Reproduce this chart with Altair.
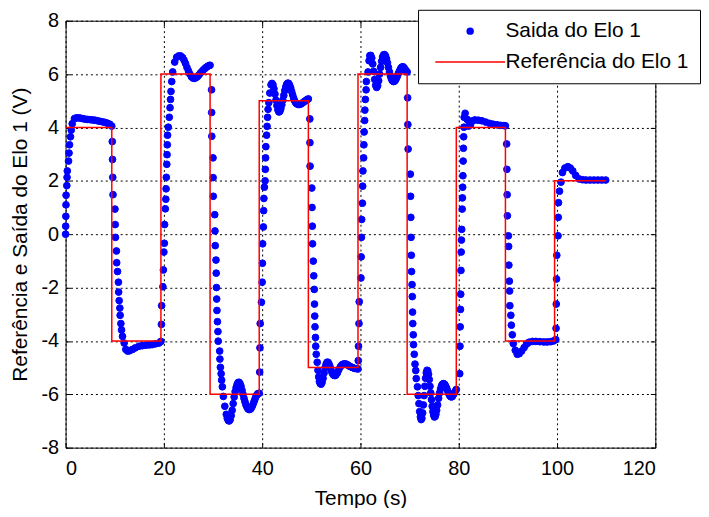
import altair as alt
import pandas as pd

# ---- reference (step) signal ----
ref_t = [0, 9.4, 19.4, 29.4, 39.4, 49.4, 59.5, 69.5, 79.5, 89.5, 99.5, 110]
ref_v = [4, -4, 6, -6, 5, -5, 6, -6, 4, -4, 2, 2]

# ---- measured output, read segment by segment ----
a_t = [0.0, 0.02, 0.05, 0.08, 0.1, 0.25, 0.3, 0.35, 0.6, 0.7, 0.8, 1.0, 1.15, 1.35, 1.8, 2.2, 2.6, 3.0, 3.5, 4.0, 4.5, 5.0, 5.5, 6.0, 6.5, 7.0, 7.5, 8.0, 8.5, 9.0, 9.4]
a_v = [0.0, 0.3, 0.67, 1.1, 1.46, 1.82, 2.13, 2.37, 2.74, 3.04, 3.35, 3.65, 3.9, 4.14, 4.33, 4.36, 4.36, 4.35, 4.33, 4.31, 4.3, 4.29, 4.28, 4.27, 4.25, 4.23, 4.21, 4.19, 4.16, 4.12, 4.05]

b_t = [9.5, 9.55, 9.6, 9.65, 10.05, 10.1, 10.15, 10.35, 10.4, 10.57, 10.75, 10.8, 10.9, 11.04, 11.1, 11.25, 11.38, 11.58, 11.92, 12.26, 12.6, 13.0, 13.6, 14.2, 14.95, 15.6, 16.3, 17.0, 17.6, 18.3, 19.0, 19.4]
b_v = [3.47, 2.8, 2.13, 1.48, 0.94, 0.36, -0.12, -0.63, -1.07, -1.4, -1.8, -2.17, -2.49, -2.77, -3.04, -3.35, -3.59, -3.83, -4.08, -4.32, -4.38, -4.37, -4.32, -4.26, -4.2, -4.18, -4.16, -4.15, -4.14, -4.11, -4.08, -4.02]

c_t = [19.5, 19.55, 19.8, 19.9, 20.0, 20.1, 20.15, 20.3, 20.4, 20.45, 20.5, 20.6, 20.65, 20.7, 20.75, 20.9, 21.1, 21.25, 21.35, 21.45, 21.6, 21.8]
c_v = [-3.38, -2.68, -1.97, -1.34, -0.67, -0.34, 0.36, 0.95, 1.31, 1.7, 2.13, 2.62, 2.98, 3.35, 3.71, 4.01, 4.38, 4.74, 5.05, 5.35, 5.72, 6.08]
c_osc_t = [22.2, 22.6, 23.0, 23.4, 23.8, 24.1, 24.4, 24.7, 25.0, 25.3, 25.6, 25.9, 26.2, 26.5, 26.8, 27.1, 27.4, 27.7, 28.0, 28.3, 28.6, 28.9, 29.2, 29.4]
c_osc_v = [6.45, 6.63, 6.68, 6.68, 6.62, 6.52, 6.4, 6.25, 6.12, 6.0, 5.9, 5.85, 5.84, 5.86, 5.9, 5.96, 6.03, 6.09, 6.15, 6.2, 6.25, 6.29, 6.32, 6.33]

d_t = [29.7, 29.72, 29.75, 30.0, 30.02, 30.05, 30.35, 30.4, 30.45, 30.6, 30.65, 30.7, 30.75, 30.8, 30.9, 31.0, 31.05, 31.35, 31.4, 31.5, 31.65, 31.75, 31.9]
d_v = [5.41, 4.56, 3.67, 2.86, 2.12, 1.42, 0.73, 0.12, -0.43, -0.97, -1.46, -2.0, -2.43, -2.86, -3.28, -3.65, -4.01, -4.38, -4.68, -4.99, -5.23, -5.47, -5.72]
d_osc_t = [32.1, 32.4, 32.7, 32.9, 33.1, 33.3, 33.5, 33.7, 33.9, 34.1, 34.3, 34.5, 34.7, 34.9, 35.1, 35.3, 35.5, 35.7, 35.9, 36.1, 36.3, 36.5, 36.7, 36.9, 37.1, 37.3, 37.5, 37.7, 37.9, 38.1, 38.3, 38.5, 38.7, 38.9, 39.1, 39.4]
d_osc_v = [-6.08, -6.45, -6.75, -6.9, -6.98, -7.0, -6.95, -6.8, -6.6, -6.35, -6.1, -5.9, -5.75, -5.63, -5.56, -5.55, -5.6, -5.7, -5.85, -6.0, -6.15, -6.28, -6.4, -6.48, -6.54, -6.57, -6.57, -6.54, -6.48, -6.4, -6.3, -6.2, -6.1, -6.03, -5.98, -5.96]

e_t = [39.5, 39.55, 39.6, 39.85, 40.0, 40.05, 40.1, 40.25, 40.3, 40.35, 40.45, 40.6, 40.65, 40.7, 40.75, 40.9, 41.0, 41.1, 41.2, 41.35]
e_v = [-5.17, -4.26, -3.35, -2.55, -1.8, -1.09, -0.36, 0.27, 0.88, 1.34, 1.76, 2.0, 2.43, 2.86, 3.28, 3.71, 4.04, 4.38, 4.68, 4.93]
e_osc_t = [41.55, 41.8, 42.0, 42.2, 42.4, 42.6, 42.8, 43.0, 43.2, 43.4, 43.6, 43.8, 44.0, 44.2, 44.4, 44.6, 44.8, 45.0, 45.2, 45.4, 45.6, 45.8, 46.0, 46.2, 46.4, 46.6, 46.8, 47.0, 47.3, 47.6, 47.9, 48.2, 48.5, 48.8, 49.1, 49.4]
e_osc_v = [5.29, 5.6, 5.65, 5.6, 5.45, 5.25, 5.02, 4.82, 4.66, 4.58, 4.6, 4.7, 4.85, 5.02, 5.2, 5.38, 5.52, 5.62, 5.66, 5.65, 5.58, 5.48, 5.35, 5.22, 5.1, 5.0, 4.93, 4.89, 4.86, 4.86, 4.88, 4.92, 4.96, 5.0, 5.04, 5.07]

f_t = [49.7, 49.72, 49.75, 50.1, 50.15, 50.2, 50.25, 50.4, 50.5, 50.6, 50.65, 50.7, 50.75, 50.85, 50.9, 51.0]
f_v = [4.32, 3.43, 2.55, 1.73, 1.0, 0.3, -0.36, -1.01, -1.56, -2.07, -2.62, -3.07, -3.47, -3.87, -4.2, -4.5]
f_osc_t = [51.2, 51.35, 51.5, 51.65, 51.8, 52.0, 52.2, 52.4, 52.6, 52.8, 53.0, 53.2, 53.4, 53.6, 53.8, 54.0, 54.2, 54.4, 54.6, 54.8, 55.0, 55.3, 55.6, 55.9, 56.2, 56.5, 56.8, 57.1, 57.4, 57.7, 58.0, 58.4, 58.8, 59.2, 59.5]
f_osc_v = [-4.8, -5.1, -5.35, -5.52, -5.6, -5.62, -5.55, -5.4, -5.2, -5.0, -4.88, -4.8, -4.8, -4.86, -4.96, -5.08, -5.18, -5.25, -5.29, -5.3, -5.28, -5.2, -5.08, -4.97, -4.9, -4.87, -4.86, -4.87, -4.9, -4.94, -4.97, -5.0, -5.03, -5.04, -5.05]

g_t = [59.55, 59.6, 59.7, 59.75, 60.1, 60.15, 60.2, 60.25, 60.4, 60.45, 60.5, 60.65, 60.7, 60.75, 60.85, 60.9, 61.0, 61.15, 61.2]
g_v = [-4.74, -4.2, -3.35, -2.53, -1.64, -0.85, -0.12, 0.55, 1.16, 1.8, 2.37, 2.86, 3.35, 3.83, 4.26, 4.65, 5.05, 5.41, 5.72]
g_osc_t = [61.55, 61.75, 61.9, 62.1, 62.3, 62.5, 62.7, 62.9, 63.1, 63.3, 63.5, 63.7, 63.9, 64.1, 64.3, 64.5, 64.7, 64.9, 65.1, 65.3, 65.5, 65.7, 65.9, 66.1, 66.3, 66.5, 66.7, 66.9, 67.1, 67.3, 67.5, 67.7, 67.9, 68.1, 68.3, 68.5, 68.7, 68.9, 69.1, 69.3, 69.5]
g_osc_v = [6.08, 6.5, 6.69, 6.7, 6.6, 6.38, 6.1, 5.8, 5.58, 5.5, 5.56, 5.75, 6.0, 6.25, 6.48, 6.64, 6.72, 6.73, 6.68, 6.57, 6.42, 6.25, 6.08, 5.93, 5.82, 5.75, 5.72, 5.73, 5.77, 5.84, 5.92, 6.02, 6.1, 6.18, 6.24, 6.27, 6.27, 6.23, 6.17, 6.12, 6.08]

h_t = [69.6, 69.65, 69.7, 70.15, 70.2, 70.25, 70.3, 70.35, 70.4, 70.5, 70.55, 70.6, 70.65, 70.75, 70.8, 70.95, 71.1, 71.25, 71.35]
h_v = [5.11, 4.11, 3.19, 2.25, 1.42, 0.63, -0.12, -0.79, -1.4, -1.89, -2.34, -2.92, -3.35, -3.77, -4.14, -4.5, -4.87, -5.11, -5.41]
h_osc_t = [71.6, 71.75, 71.9, 72.05, 72.2, 72.35, 72.5, 72.65, 72.8, 72.95, 73.1, 73.25, 73.4, 73.55, 73.7, 73.85, 74.0, 74.15, 74.3, 74.45, 74.6, 74.75, 74.9, 75.05, 75.2, 75.35, 75.5, 75.7, 75.9, 76.1, 76.3, 76.5, 76.7, 76.9, 77.1, 77.3, 77.5, 77.7, 77.9, 78.1, 78.3, 78.5, 78.7, 78.9, 79.1, 79.3, 79.5]
h_osc_v = [-5.72, -6.05, -6.35, -6.65, -6.85, -6.95, -6.9, -6.7, -6.4, -6.05, -5.7, -5.4, -5.2, -5.1, -5.12, -5.25, -5.45, -5.7, -5.95, -6.2, -6.45, -6.65, -6.78, -6.85, -6.83, -6.75, -6.6, -6.4, -6.15, -5.95, -5.8, -5.68, -5.62, -5.6, -5.62, -5.68, -5.76, -5.85, -5.95, -6.03, -6.08, -6.1, -6.08, -6.02, -5.95, -5.88, -5.82]

i_t = [80.2, 80.25, 80.3, 80.35, 80.4, 80.45, 80.5, 80.55, 80.6, 80.7, 80.75, 80.8, 80.85, 80.9, 80.95, 81.0, 81.05, 81.1, 81.3, 81.7, 82.0, 82.4, 82.8, 83.3, 84.0, 84.7, 85.5, 86.3, 87.0, 87.8, 88.5, 89.2, 89.5]
i_v = [-5.23, -4.2, -3.47, -2.82, -2.25, -1.36, -0.67, -0.22, 0.18, 0.94, 1.36, 1.76, 2.19, 2.74, 3.22, 3.65, 4.01, 4.38, 4.53, 4.3, 4.05, 4.1, 4.25, 4.28, 4.27, 4.25, 4.2, 4.15, 4.12, 4.1, 4.08, 4.07, 4.06]

j_t = [89.75, 89.8, 89.85, 89.9, 90.1, 90.15, 90.2, 90.3, 90.35, 90.4, 90.6, 90.7, 90.9, 91.1, 91.5, 91.9, 92.3, 92.8, 93.3, 93.8, 94.3, 95.0, 95.7, 96.5, 97.3, 98.0, 98.7, 99.3]
j_v = [3.38, 2.43, 1.48, 0.69, -0.06, -0.46, -1.16, -1.76, -2.13, -2.68, -3.04, -3.41, -3.77, -4.1, -4.35, -4.5, -4.48, -4.38, -4.25, -4.12, -4.05, -4.02, -4.02, -4.03, -4.04, -4.04, -4.03, -4.0]

k_t = [99.75, 99.8, 99.85, 99.9, 99.95, 100.2, 100.25, 100.3, 100.5, 100.8, 101.1, 101.6, 102.2, 102.7, 103.2, 103.8, 104.5, 105.2, 105.9, 106.7, 107.5, 108.3, 109.1, 109.9]
k_v = [-3.95, -3.53, -2.62, -1.68, -0.79, -0.06, 0.63, 1.18, 1.61, 1.95, 2.31, 2.48, 2.53, 2.48, 2.37, 2.2, 2.07, 2.04, 2.03, 2.03, 2.03, 2.03, 2.03, 2.03]

x_ticks = [0, 20, 40, 60, 80, 100, 120]
y_ticks = [-8, -6, -4, -2, 0, 2, 4, 6, 8]
series_names = ["Saida do Elo 1", "Referência do Elo 1"]

segments = [(a_t, a_v), (b_t, b_v), (c_t, c_v), (c_osc_t, c_osc_v), (d_t, d_v), (d_osc_t, d_osc_v),
            (e_t, e_v), (e_osc_t, e_osc_v), (f_t, f_v), (f_osc_t, f_osc_v),
            (g_t, g_v), (g_osc_t, g_osc_v), (h_t, h_v), (h_osc_t, h_osc_v),
            (i_t, i_v), (j_t, j_v), (k_t, k_v)]
frames = [pd.DataFrame({"t": st, "v": sv}) for st, sv in segments]
out_df = pd.concat(frames, ignore_index=True)
out_df["series"] = series_names[0]
ref_df = pd.DataFrame({"t": ref_t, "v": ref_v})
ref_df["series"] = series_names[1]

FONT = "Liberation Sans"
x_scale = alt.Scale(domain=[0, 120], nice=False, zero=False)
y_scale = alt.Scale(domain=[-8, 8], nice=False, zero=False)
hyphen_labels = "'' + datum.value"

leg = alt.Legend(title=None, orient="none", legendX=355, legendY=-11,
                 strokeColor="black", fillColor="white", padding=11,
                 labelFont=FONT, labelFontSize=21, labelColor="black", labelLimit=400,
                 symbolSize=36, symbolOffset=31, labelOffset=25, rowPadding=9,
                 symbolStrokeWidth=1.5, cornerRadius=0)

colors = alt.Scale(domain=series_names, range=["#0000ff", "#ff0000"])
shapes = alt.Scale(domain=series_names, range=["circle", "M-11.7,0H11.7"])

points = alt.Chart(out_df).mark_point(filled=True, opacity=1, strokeWidth=1, size=46).encode(
    x=alt.X("t:Q", scale=x_scale,
            axis=alt.Axis(values=x_ticks, title="Tempo (s)", labelExpr=hyphen_labels, orient="bottom",
                          offset=-5, tickSize=5, domain=False, grid=True,
                          labelPadding=11, titlePadding=9)),
    y=alt.Y("v:Q", scale=y_scale,
            axis=alt.Axis(values=y_ticks, title="Referência e Saída do Elo 1 (V)", labelExpr=hyphen_labels,
                          orient="left", offset=-5, tickSize=5, domain=False, grid=True,
                          labelPadding=7, titlePadding=11)),
    fill=alt.Fill("series:N", scale=colors, legend=leg),
    stroke=alt.Stroke("series:N", scale=colors, legend=leg),
    shape=alt.Shape("series:N", scale=shapes, legend=leg),
)

ref_line = alt.Chart(ref_df).mark_line(interpolate="step-after", strokeWidth=1.5).encode(
    x=alt.X("t:Q", scale=x_scale,
            axis=alt.Axis(values=x_ticks, orient="top", offset=-5, tickSize=5, labels=False,
                          domain=False, grid=False, title=None)),
    y=alt.Y("v:Q", scale=y_scale,
            axis=alt.Axis(values=y_ticks, orient="right", offset=-5, tickSize=5, labels=False,
                          domain=False, grid=False, title=None)),
    stroke=alt.Stroke("series:N", scale=colors, legend=leg),
)

chart = alt.layer(points, ref_line).resolve_axis(x="independent", y="independent").properties(
    width=594, height=430,
    autosize=alt.AutoSizeParams(type="none"),
    padding={"left": 58, "top": 11, "right": 46, "bottom": 59},
).configure_view(
    stroke="black", strokeWidth=1
).configure_axis(
    labelFont=FONT, labelFontSize=20, labelColor="black",
    titleFont=FONT, titleFontSize=21, titleFontWeight="normal", titleColor="black",
    tickColor="black", tickWidth=1,
    gridColor="black", gridDash=[2, 3], gridOpacity=1, gridWidth=1,
)

chart.save("out.html", embed_options={"renderer": "svg", "actions": False})
